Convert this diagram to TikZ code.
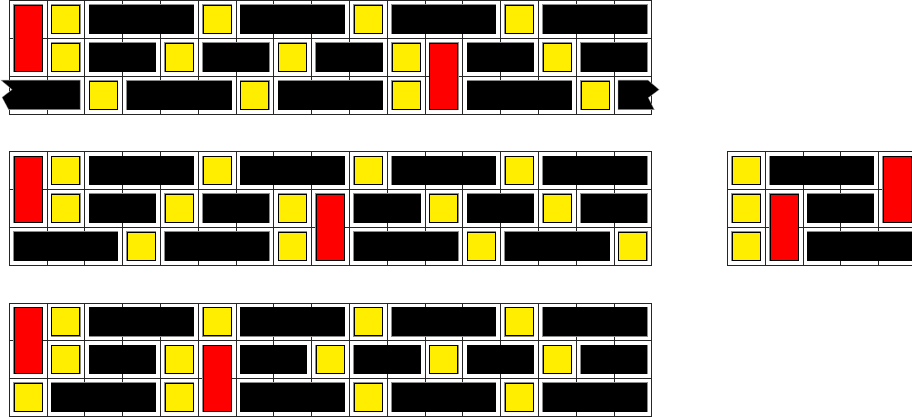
\documentclass[tikz,border=0pt]{standalone}
\definecolor{tyel}{RGB}{255,238,0}
\definecolor{tred}{RGB}{255,0,0}
\def\ins{0.13}
\tikzset{
  gridline/.style={draw=black!85, line width=0.5pt},
  tile/.style={draw=black, line width=0.5pt, preaction={draw=black!45, line width=1.8pt}},
}
% \tl{color}{x}{y}{w}{h}
\newcommand\tl[5]{\path[tile,fill=#1] ({#2+\ins},{#3+\ins}) rectangle ({#2+#4-\ins},{#3+#5-\ins});}
\newcommand\Yt[2]{\tl{tyel}{#1}{#2}{1}{1}}
\newcommand\Kt[3]{\tl{black}{#1}{#2}{#3}{1}}
\newcommand\Rt[2]{\tl{tred}{#1}{#2}{1}{2}}
\newcommand\firstrow[1]{%
  \Rt{0}{#1}\Yt{1}{#1}\Kt{2}{#1}{3}\Yt{5}{#1}\Kt{6}{#1}{3}%
  \Yt{9}{#1}\Kt{10}{#1}{3}\Yt{13}{#1}\Kt{14}{#1}{3}}
% \gridblock{x0}{y0}{x1}  (three rows)
\newcommand\gridblock[3]{%
  \foreach \gx in {#1,...,#3} {\draw[gridline] (\gx,#2) -- (\gx,#2+3);}
  \foreach \gy in {0,...,3} {\draw[gridline] (#1,#2+\gy) -- (#3,#2+\gy);}}
\begin{document}
\begin{tikzpicture}[x=37.8pt,y=-37.8pt]
\useasboundingbox (-0.238,-0.01) rectangle (23.889,11.075);
% grids
\gridblock{0}{0}{17}
\gridblock{0}{4}{17}
\gridblock{0}{8}{17}
\gridblock{19}{4}{25}
% ---- top grid ----
\firstrow{0}
\Yt{1}{1}\Kt{2}{1}{2}\Yt{4}{1}\Kt{5}{1}{2}\Yt{7}{1}\Kt{8}{1}{2}\Yt{10}{1}\Rt{11}{1}\Kt{12}{1}{2}\Yt{14}{1}\Kt{15}{1}{2}
\path[tile,fill=black] (-0.16,2.13) -- (1.87,2.13) -- (1.87,2.87) -- (0.0,2.87) -- (-0.16,2.57) -- (0.11,2.36) -- cycle;
\Yt{2}{2}\Kt{3}{2}{3}\Yt{6}{2}\Kt{7}{2}{3}\Yt{10}{2}\Kt{12}{2}{3}\Yt{15}{2}
\path[tile,fill=black] (16.13,2.13) -- (16.9,2.13) -- (17.17,2.36) -- (16.89,2.57) -- (17.04,2.87) -- (16.13,2.87) -- cycle;
% ---- middle grid ----
\firstrow{4}
\Yt{1}{5}\Kt{2}{5}{2}\Yt{4}{5}\Kt{5}{5}{2}\Yt{7}{5}\Rt{8}{5}\Kt{9}{5}{2}\Yt{11}{5}\Kt{12}{5}{2}\Yt{14}{5}\Kt{15}{5}{2}
\Kt{0}{6}{3}\Yt{3}{6}\Kt{4}{6}{3}\Yt{7}{6}\Kt{9}{6}{3}\Yt{12}{6}\Kt{13}{6}{3}\Yt{16}{6}
% ---- right grid ----
\Yt{19}{4}\Kt{20}{4}{3}\Rt{23}{4}
\Yt{19}{5}\Rt{20}{5}\Kt{21}{5}{2}
\Yt{19}{6}\Kt{21}{6}{3}
% ---- bottom grid ----
\firstrow{8}
\Yt{1}{9}\Kt{2}{9}{2}\Yt{4}{9}\Rt{5}{9}\Kt{6}{9}{2}\Yt{8}{9}\Kt{9}{9}{2}\Yt{11}{9}\Kt{12}{9}{2}\Yt{14}{9}\Kt{15}{9}{2}
\Yt{0}{10}\Kt{1}{10}{3}\Yt{4}{10}\Kt{6}{10}{3}\Yt{9}{10}\Kt{10}{10}{3}\Yt{13}{10}\Kt{14}{10}{3}
\end{tikzpicture}
\end{document}
